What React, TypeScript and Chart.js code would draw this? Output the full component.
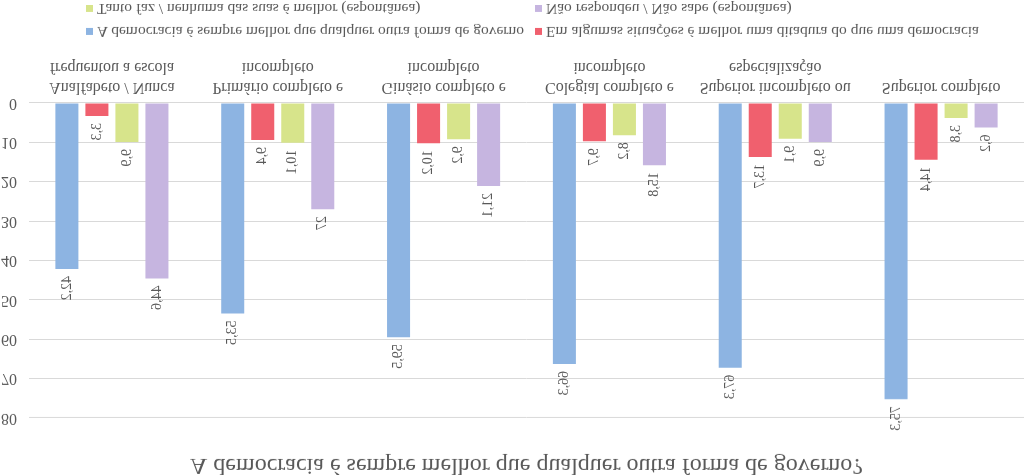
import React, { useEffect, useRef } from "react";
import { Chart, registerables } from "chart.js";

Chart.register(...registerables);

const FONT = "'Liberation Serif', 'DejaVu Serif', serif";
const TEXT_COLOR = "#595959";

const chartTitle = "A democracia é sempre melhor que qualquer outra forma de governo?";

const categories: string[][] = [
  ["Analfabeto / Nunca", "frequentou a escola"],
  ["Primário completo e", "incompleto"],
  ["Ginásio completo e", "incompleto"],
  ["Colegial completo e", "incompleto"],
  ["Superior incompleto ou", "especialização"],
  ["Superior completo"],
];

const seriesNames = [
  "A democracia é sempre melhor que qualquer outra forma de governo",
  "Em algumas situações é melhor uma ditadura do que uma democracia",
  "Tanto faz / nenhuma das suas é melhor (espontânea)",
  "Não respondeu / Não sabe (espontânea)",
];

const democraciaSempre = [42.2, 53.5, 59.5, 66.3, 67.3, 75.3];
const ditaduraMelhor = [3.3, 9.4, 10.2, 9.7, 13.7, 14.4];
const tantoFaz = [9.9, 10.1, 9.2, 8.2, 9.1, 3.8];
const naoSabe = [44.6, 27, 21.1, 15.8, 9.9, 6.2];

const seriesColors = ["#8DB4E2", "#F0606E", "#D7E48B", "#C6B5E0"];

const yMin = 0;
const yMax = 80;
const yStep = 10;

const fmt = (v: number) =>
  Number.isInteger(v) ? String(v) : v.toFixed(1).replace(".", ",");

const dataLabelPlugin = {
  id: "verticalDataLabels",
  afterDatasetsDraw(chart: any) {
    const ctx = chart.ctx;
    ctx.save();
    ctx.font = `14px ${FONT}`;
    ctx.fillStyle = TEXT_COLOR;
    chart.data.datasets.forEach((ds: any, di: number) => {
      const meta = chart.getDatasetMeta(di);
      meta.data.forEach((el: any, i: number) => {
        const v = ds.data[i];
        ctx.save();
        ctx.translate(el.x, el.y - 7);
        ctx.rotate(-Math.PI / 2);
        ctx.textAlign = "left";
        ctx.textBaseline = "middle";
        ctx.fillText(fmt(v), 0, 0);
        ctx.restore();
      });
    });
    ctx.restore();
  },
};

export default function App() {
  const canvasRef = useRef<HTMLCanvasElement | null>(null);

  useEffect(() => {
    if (!canvasRef.current) return;
    const chart = new Chart(canvasRef.current, {
      type: "bar",
      data: {
        labels: categories,
        datasets: [democraciaSempre, ditaduraMelhor, tantoFaz, naoSabe].map((d, i) => ({
          label: seriesNames[i],
          data: d,
          backgroundColor: seriesColors[i],
          borderWidth: 0,
          categoryPercentage: 0.724,
          barPercentage: 0.767,
        })),
      },
      options: {
        animation: false,
        responsive: false,
        maintainAspectRatio: false,
        devicePixelRatio: 1,
        layout: { padding: { left: 0, right: 0, top: 0, bottom: 51 } },
        plugins: {
          legend: { display: false },
          tooltip: { enabled: false },
          title: {
            display: true,
            fullSize: false,
            text: chartTitle,
            color: TEXT_COLOR,
            font: { family: FONT, size: 24, weight: "normal", lineHeight: 0.8 },
            padding: { top: 0, bottom: 38 },
          },
        },
        scales: {
          x: {
            grid: { display: false, drawTicks: false },
            border: { display: false },
            ticks: {
              color: TEXT_COLOR,
              font: { family: FONT, size: 16, lineHeight: 1.25 },
              maxRotation: 0,
              autoSkip: false,
              padding: 6,
            },
          },
          y: {
            min: yMin,
            max: yMax,
            grid: { color: "#D9D9D9", drawTicks: false },
            border: { display: false },
            ticks: {
              stepSize: yStep,
              color: TEXT_COLOR,
              font: { family: FONT, size: 16 },
              padding: 12,
            },
            afterFit: (s: any) => {
              s.width = 29;
            },
          },
        },
      },
      plugins: [dataLabelPlugin],
    });
    return () => chart.destroy();
  }, []);

  const legendPos = [
    { left: 86, top: 433 },
    { left: 535, top: 433 },
    { left: 86, top: 456 },
    { left: 535, top: 456 },
  ];

  return (
    <div
      style={{
        position: "fixed",
        left: 0,
        top: 0,
        width: 1024,
        height: 475,
        background: "#fff",
        transform: "scaleY(-1)",
        overflow: "hidden",
      }}
    >
      <canvas
        ref={canvasRef}
        width={1024}
        height={475}
        style={{ position: "absolute", left: 0, top: 0, width: 1024, height: 475 }}
      />
      {seriesNames.map((name, i) => (
        <div
          key={name}
          style={{
            position: "absolute",
            left: legendPos[i].left,
            top: legendPos[i].top,
            height: 20,
            display: "flex",
            alignItems: "center",
            fontFamily: FONT,
            fontSize: 15.5,
            color: TEXT_COLOR,
            whiteSpace: "nowrap",
          }}
        >
          <span
            style={{
              display: "inline-block",
              width: 7,
              height: 7,
              background: seriesColors[i],
              marginRight: 4,
            }}
          />
          {name}
        </div>
      ))}
    </div>
  );
}
